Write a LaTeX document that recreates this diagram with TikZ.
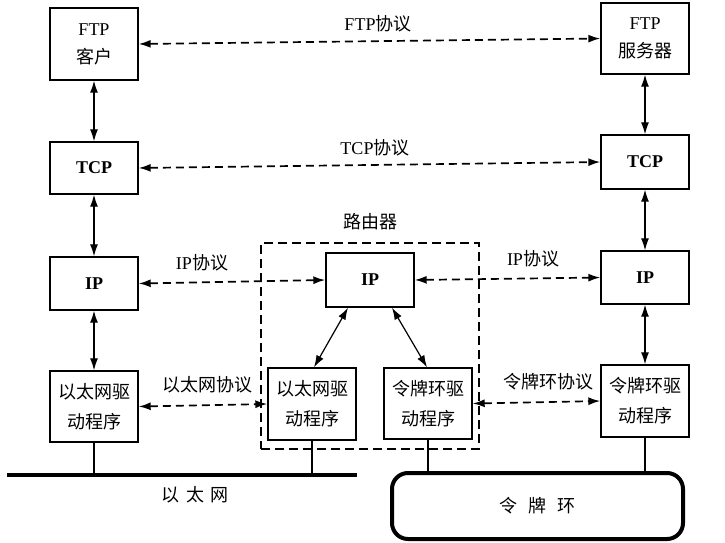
\documentclass[tikz,border=0pt]{standalone}
\usepackage{fontspec}
\setmainfont{Liberation Serif}
\newfontfamily\cjk{Noto Sans CJK SC}
\usetikzlibrary{arrows.meta,calc}
\begin{document}
\begin{tikzpicture}[x=1pt,y=-1pt,
  box/.style={draw,line width=1.4pt,minimum width=88pt,minimum height=#1,inner sep=0pt,align=center,font=\fontsize{18}{28}\selectfont},
  lbl/.style={font=\fontsize{18}{20}\selectfont,inner sep=0pt},
  arr/.style={line width=1.2pt,{Latex[length=12pt,width=8pt]}-{Latex[length=12pt,width=8pt]}},
  darr/.style={line width=1.7pt,dash pattern=on 8pt off 5pt,{Latex[length=12pt,width=8pt]}-{Latex[length=12pt,width=8pt]}},
  tie/.style={line width=1.1pt}
]
\useasboundingbox (0,0) rectangle (725,543);

% router dashed frame
\node[draw,line width=1.4pt,dash pattern=on 9pt off 5pt,minimum width=218pt,minimum height=206pt,inner sep=0pt] (router) at (370,346) {};
\node[lbl] (routerlbl) at (370,222) {\cjk 路由器};

% left host
\node[box=72pt] (ftpc) at (94,44) {FTP\\{\cjk 客户}};
\node[box=52pt] (tcpc) at (94,168) {\textbf{TCP}};
\node[box=53pt] (ipc) at (94,283.5) {\textbf{IP}};
\node[box=71pt,font=\fontsize{18}{30}\selectfont] (ethc) at (94,406.5) {\cjk 以太网驱\\\cjk 动程序};

% right host
\node[box=71pt] (ftps) at (645,38.5) {FTP\\{\cjk 服务器}};
\node[box=54pt] (tcps) at (645,162) {\textbf{TCP}};
\node[box=53pt] (ips) at (645,277.5) {\textbf{IP}};
\node[box=72pt,font=\fontsize{18}{30}\selectfont] (toks) at (645,401) {\cjk 令牌环驱\\\cjk 动程序};

% router
\node[box=54pt] (ipr) at (370,280) {\textbf{IP}};
\node[box=72pt,font=\fontsize{18}{30}\selectfont] (ethr) at (312,404) {\cjk 以太网驱\\\cjk 动程序};
\node[box=71pt,font=\fontsize{18}{30}\selectfont] (tokr) at (428,403.5) {\cjk 令牌环驱\\\cjk 动程序};

% vertical stacks
\draw[arr] (ftpc) -- (tcpc);
\draw[arr] (tcpc) -- (ipc);
\draw[arr] (ipc) -- (ethc);
\draw[arr] (ftps) -- (tcps);
\draw[arr] (tcps) -- (ips);
\draw[arr] (ips) -- (toks);
\draw[arr] ($(ipr.south)+(-22,0)$) -- ($(ethr.north)+(2,0)$);
\draw[arr] ($(ipr.south)+(22,0)$) -- ($(tokr.north)+(-1,0)$);

% peer protocols
\draw[darr] (ftpc.east) -- (ftps.west);
\node[lbl] (ftpp) at (378,24) {FTP{\cjk 协议}};
\draw[darr] (tcpc.east) -- (tcps.west);
\node[lbl] (tcpp) at (375,148) {TCP{\cjk 协议}};
\draw[darr] (ipc.east) -- (ipr.west);
\node[lbl] (ipp1) at (202,263) {IP{\cjk 协议}};
\draw[darr] (ipr.east) -- (ips.west);
\node[lbl] (ipp2) at (533,259) {IP{\cjk 协议}};
\draw[darr] (ethc.east) -- (ethr.west);
\node[lbl] (ethp) at (207,385) {\cjk 以太网协议};
\draw[darr] (tokr.east) -- (toks.west);
\node[lbl] (tokp) at (548,382) {\cjk 令牌环协议};

% ethernet
\coordinate (ethL) at (7,475);
\coordinate (ethR) at (357,475);
\draw[line width=4.5pt] (ethL) -- (ethR);
\node[lbl] (ethlbl) at (195,495) {\cjk 以\hspace{0.35em}太\hspace{0.35em}网};
\draw[tie] (ethc.south) -- (ethc.south |- ethL);
\draw[tie] (ethr.south) -- (ethr.south |- ethL);

% token ring
\node[draw,line width=4pt,rounded corners=16pt,minimum width=291pt,minimum height=66pt,inner sep=0pt,font=\fontsize{18}{20}\selectfont] (ring) at (537.5,506) {\cjk 令\hspace{0.6em}牌\hspace{0.6em}环};
\draw[tie] (tokr.south) -- (tokr.south |- ring.north);
\draw[tie] (toks.south) -- (toks.south |- ring.north);
\end{tikzpicture}
\end{document}
